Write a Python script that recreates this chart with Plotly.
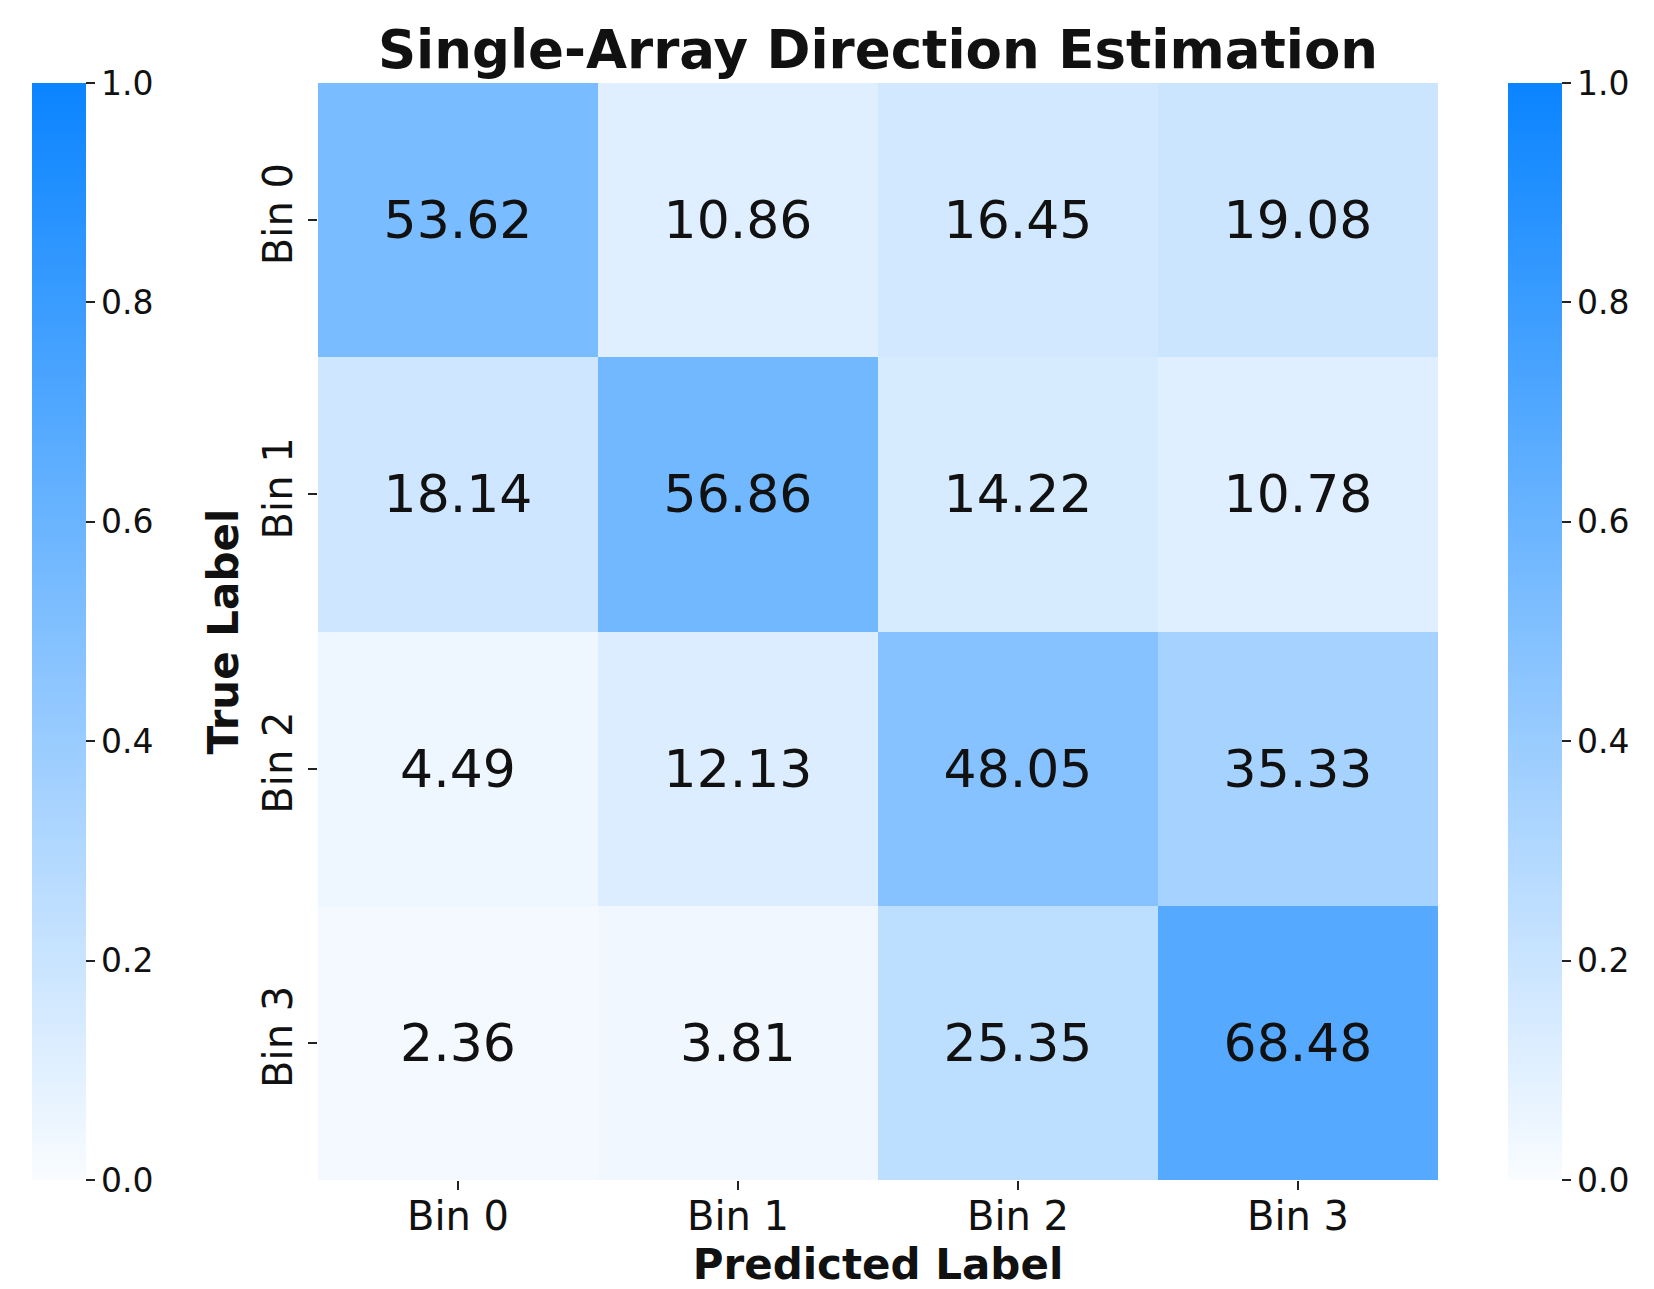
import plotly.graph_objects as go

# Confusion matrix of the single-array direction classifier (row = true bin, col = predicted bin), in percent
bins = ["Bin 0", "Bin 1", "Bin 2", "Bin 3"]
row_bin0 = [53.62, 10.86, 16.45, 19.08]
row_bin1 = [18.14, 56.86, 14.22, 10.78]
row_bin2 = [4.49, 12.13, 48.05, 35.33]
row_bin3 = [2.36, 3.81, 25.35, 68.48]
percent_rows = [row_bin0, row_bin1, row_bin2, row_bin3]

cbar_ticks = [0.0, 0.2, 0.4, 0.6, 0.8, 1.0]

# Colour follows the row-normalised fraction, the label shows the percentage
z = [[v / 100.0 for v in row] for row in percent_rows]
labels = [[f"{v:.2f}" for v in row] for row in percent_rows]

blues = [[0.0, "rgb(249,252,255)"], [1.0, "rgb(10,132,255)"]]
FONT = "DejaVu Sans"

W, H = 1654, 1289
L, R, T, B = 318, 1438, 83, 1180
plot_w = R - L


def colorbar(left_px):
    return dict(
        x=(left_px - L) / plot_w, xanchor="left", xpad=0,
        y=0.5, yanchor="middle", len=1.0, lenmode="fraction", ypad=0,
        thickness=54, outlinewidth=0,
        tickmode="array", tickvals=cbar_ticks, tickformat=".1f",
        tickprefix="\u2009",
        ticks="outside", ticklen=9, tickwidth=1.5, tickcolor="#222",
        tickfont=dict(family=FONT, size=33, color="#111"),
    )


fig = go.Figure()
fig.add_trace(go.Heatmap(
    z=z, x=bins, y=bins, text=labels, texttemplate="%{text}",
    textfont=dict(family=FONT, size=52, color="#111"),
    colorscale=blues, zmin=0, zmax=1, xgap=0, ygap=0,
    colorbar=colorbar(32), hoverinfo="skip",
))
# Second colour bar on the right, sharing the same scale
fig.add_trace(go.Scatter(
    x=[bins[0]], y=[bins[0]], mode="markers", hoverinfo="skip", showlegend=False,
    marker=dict(color=[0.0], cmin=0, cmax=1, colorscale=blues, size=1, opacity=0,
                showscale=True, colorbar=colorbar(1508)),
))

fig.update_layout(
    width=W, height=H,
    margin=dict(l=L, r=W - R, t=T, b=H - B, pad=0, autoexpand=False),
    paper_bgcolor="white", plot_bgcolor="white",
    font=dict(family=FONT, color="#111"),
    title=dict(text="Single-Array Direction Estimation",
               font=dict(family=FONT, size=53, weight="bold", color="#111"),
               x=(L + R) / 2 / W, xanchor="center", xref="container",
               y=1 - 49 / H, yanchor="middle", yref="container"),
    xaxis=dict(
        type="category", categoryorder="array", categoryarray=bins,
        automargin=False,
        showgrid=False, zeroline=False, showline=False,
        ticks="outside", ticklen=9, tickwidth=1.5, tickcolor="#222",
        ticklabelstandoff=-8,
        tickfont=dict(family=FONT, size=40, color="#111"),
        title=dict(text="Predicted Label", standoff=13,
                   font=dict(family=FONT, size=42, weight="bold", color="#111")),
    ),
    yaxis=dict(
        type="category", categoryorder="array", categoryarray=bins,
        autorange="reversed", automargin=False,
        showgrid=False, zeroline=False, showline=False,
        ticks="outside", ticklen=9, tickwidth=1.5, tickcolor="#222",
        tickangle=-90,
        tickfont=dict(family=FONT, size=40, color="#111"),
        title=dict(text="True Label", standoff=3,
                   font=dict(family=FONT, size=42, weight="bold", color="#111")),
    ),
)

fig.write_html("out.html")
